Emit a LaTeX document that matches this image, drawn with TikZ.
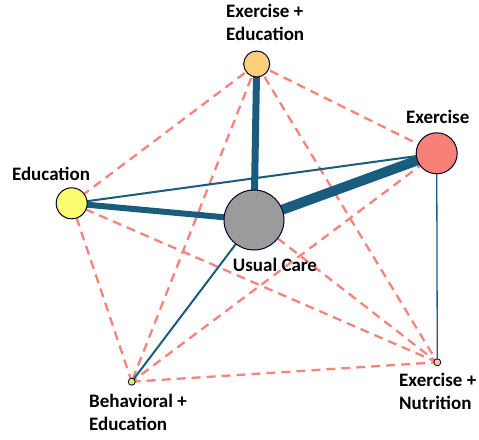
\documentclass[tikz,border=0pt]{standalone}
\usepackage{fontspec}
\setmainfont{Carlito}
\definecolor{solidc}{HTML}{1A5C7E}
\definecolor{dashc}{HTML}{F6837C}
\begin{document}
\begin{tikzpicture}[x=1pt,y=-1pt,
  nd/.style={circle,draw=black!85!blue,line width=1pt,inner sep=0pt},
  lab/.style={font=\fontsize{19}{23}\selectfont\bfseries,align=left,inner sep=0pt},
  sol/.style={draw=solidc,line cap=butt},
  dsh/.style={draw=dashc,line width=2.3pt,dash pattern=on 9pt off 6pt}]
\useasboundingbox (0,0) rectangle (479,439);
% nodes positions
\coordinate (pEE) at (256.7,64);
\coordinate (pEx) at (436.7,153.3);
\coordinate (pEd) at (71.7,203.3);
\coordinate (pUC) at (254,220);
\coordinate (pBE) at (131.7,381.7);
\coordinate (pEN) at (437.3,362.3);
% dashed edges
\path[dsh] (pEE) -- (pEd);
\path[dsh] (pEE) -- (pEx);
\path[dsh] (pEE) -- (pBE);
\path[dsh] (pEE) -- (pEN);
\path[dsh] (pEd) -- (pBE);
\path[dsh] (pEd) -- (pEN);
\path[dsh] (pEx) -- (pBE);
\path[dsh] (pUC) -- (pEN);
\path[dsh] (pBE) -- (pEN);
% solid edges
\path[sol,line width=7pt] (pEE) -- (pUC);
\path[sol,line width=10pt] (pEx) -- (pUC);
\path[sol,line width=6pt] (pEd) -- (pUC);
\path[sol,line width=2pt] (pEd) -- (pEx);
\path[sol,line width=1.3pt] (pEx) -- (pEN);
\path[sol,line width=2pt] (pUC) -- (pBE);
% circles
\node[nd,fill={rgb,255:red,252;green,208;blue,120},minimum size=26pt] (EE) at (pEE) {};
\node[nd,fill={rgb,255:red,248;green,128;blue,120},minimum size=41pt] (Ex) at (pEx) {};
\node[nd,fill={rgb,255:red,252;green,252;blue,112},minimum size=31pt] (Ed) at (pEd) {};
\node[nd,fill={rgb,255:red,155;green,155;blue,155},minimum size=60pt] (UC) at (pUC) {};
\node[nd,fill={rgb,255:red,220;green,240;blue,120},minimum size=7pt,line width=0.8pt] (BE) at (pBE) {};
\node[nd,fill={rgb,255:red,250;green,200;blue,160},minimum size=7pt,line width=0.8pt] (EN) at (pEN) {};
% labels
\node[lab,anchor=north west] (lEE) at (226,4) {Exercise +\\Education};
\node[lab] (lEx) at (437.7,117) {Exercise};
\node[lab] (lEd) at (51,174) {Education};
\node[lab] (lUC) at (275,265) {Usual Care};
\node[lab,anchor=north west] (lBE) at (89,394) {Behavioral +\\Education};
\node[lab,anchor=north west] (lEN) at (399,373) {Exercise +\\Nutrition};
\end{tikzpicture}
\end{document}
